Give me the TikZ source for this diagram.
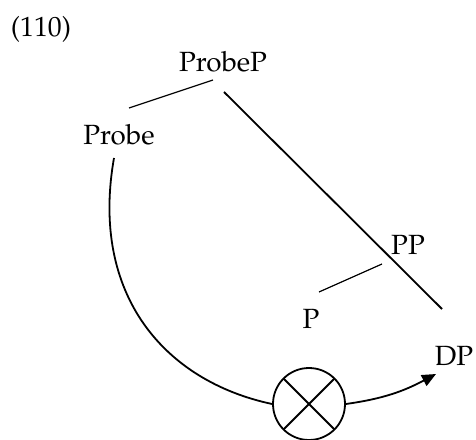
\documentclass[tikz,border=0pt]{standalone}
\usepackage[T1]{fontenc}
\usepackage{mathpazo}
\usetikzlibrary{arrows.meta, calc}

\begin{document}
\begin{tikzpicture}[
        x=0.5pt, y=0.5pt,
        >={Triangle[length=7pt,width=6pt]}, % filled tip on DP
        word/.style={inner sep=0pt, anchor=base, font=\fontsize{13.9}{16}\selectfont},
        branch/.style={line width=0.6pt},
        wire/.style={line width=0.9pt},
        mixer/.style={draw, circle, line width=0.9pt, minimum size=36pt, inner sep=0pt,
            path picture={\draw[line width=0.9pt]
                (path picture bounding box.north west) -- (path picture bounding box.south east)
                (path picture bounding box.south west) -- (path picture bounding box.north east);}}
    ]
    \useasboundingbox (0,0) rectangle (476,439);

    % --- Labels ---
    \node[word] (num) at (41,402) {(110)};
    \node[word] (probeP) at (223,367) {ProbeP};
    \node[word] (probe) at (119,294) {Probe};
    \node[word] (pp) at (408,184) {PP};
    \node[word] (p) at (311,111) {P};
    \node[word] (dp) at (454,74) {DP};

    % --- Operator ---
    \node[mixer] (mix) at (309,35) {};

    % --- Branch ends ---
    \coordinate (probeP-l) at (213,359);
    \coordinate (probe-r) at (129,331);
    \coordinate (probeP-r) at (224,347);
    \coordinate (dp-top) at (442,130);
    \coordinate (p-r) at (319,147);
    \coordinate (pp-l) at (382,175);
    \coordinate (probe-foot) at (114,281);
    \coordinate (dp-tip) at (436,65);

    % --- Tree lines ---
    \draw[branch] (probeP-l) -- (probe-r);
    \draw[wire] (probeP-r) -- (dp-top);
    \draw[branch] (p-r) -- (pp-l);

    % --- Curved path through the operator ---
    \draw[wire] (probe-foot) to[out=-100, in=168, out looseness=1.22, in looseness=0.96] (mix.west);
    \draw[wire, ->] (mix.east) to[out=8, in=-152] (dp-tip);

\end{tikzpicture}
\end{document}
